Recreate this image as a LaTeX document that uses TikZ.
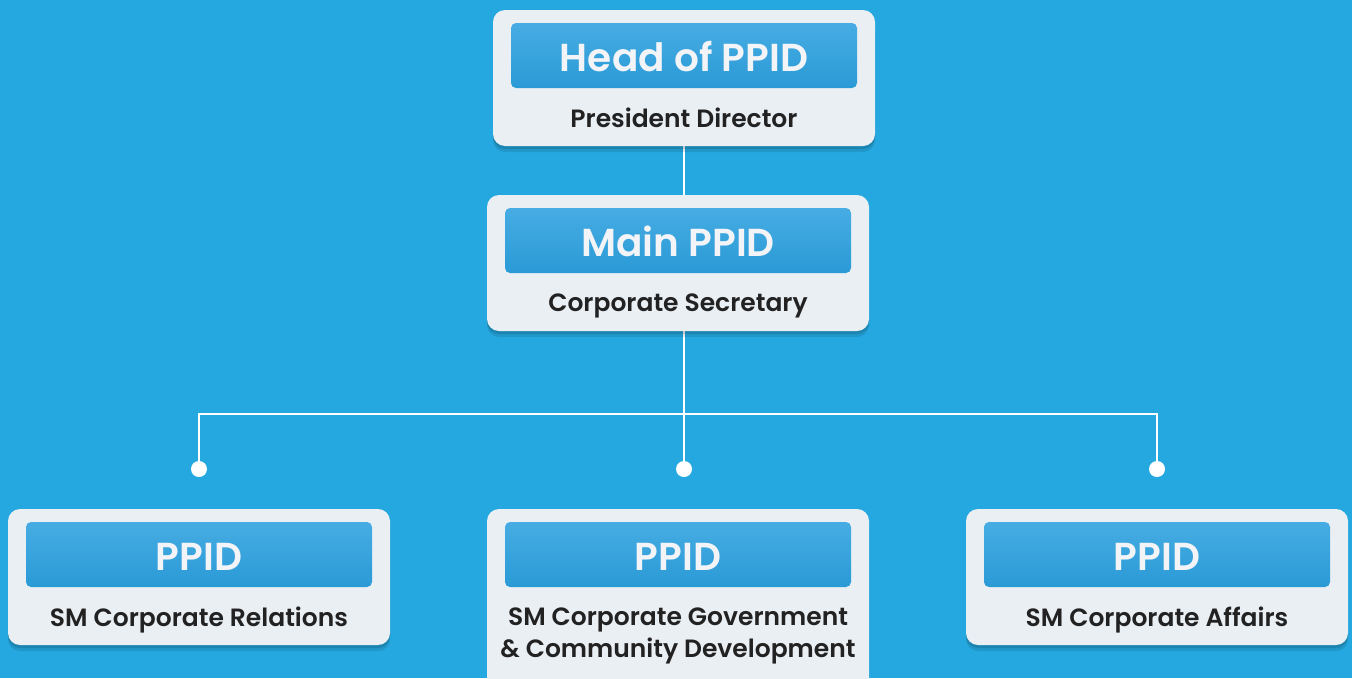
\documentclass[tikz,border=0pt]{standalone}
\usepackage{fontspec}
\setmainfont{Poppins}
\newfontfamily\semibf{Poppins SemiBold}
\usetikzlibrary{shadows}
\definecolor{bg}{HTML}{25A8E0}
\definecolor{card}{HTML}{EAEFF4}
\definecolor{bartop}{HTML}{47ACE3}
\definecolor{barbot}{HTML}{2A9AD6}
\definecolor{titlecol}{HTML}{F2F4F7}
\definecolor{subcol}{HTML}{222222}
\tikzset{
  card/.style={fill=card, rounded corners=12pt, minimum width=382pt, minimum height=136pt, inner sep=0pt,
    drop shadow={opacity=0.12, shadow xshift=0pt, shadow yshift=-3pt, fill=black},
    drop shadow={opacity=0.10, shadow xshift=0pt, shadow yshift=-6pt, fill=black}},
  bar/.style={top color=bartop, bottom color=barbot, rounded corners=5pt, minimum width=346pt, minimum height=65pt, inner sep=0pt},
  title/.style={text=titlecol, font=\fontsize{39}{44}\semibf, inner sep=0pt, anchor=base},
  sub/.style={text=subcol, font=\fontsize{25}{32}\semibf, inner sep=0pt, align=center, anchor=base},
  conn/.style={draw=white, line width=2.5pt},
  dot/.style={fill=white}
}
\begin{document}
\begin{tikzpicture}[x=1pt,y=-1pt]
\fill[bg] (0,0) rectangle (1352,678);
\useasboundingbox (0,0) rectangle (1352,678);
\clip (0,0) rectangle (1352,678);
% connectors
\coordinate (j) at (684,414);
\coordinate (d1) at (199,469);
\coordinate (d2) at (684,469);
\coordinate (d3) at (1157,469);
\coordinate (a1) at (684,146);
\coordinate (a2) at (684,195);
\coordinate (a3) at (684,331);
\draw[conn] (a1) -- (a2);
\draw[conn] (a3) -- (d2);
\draw[conn] (d1) -- (d1 |- j) -- (d3 |- j) -- (d3);
\fill[dot] (d1) circle (8);
\fill[dot] (d2) circle (8);
\fill[dot] (d3) circle (8);
% cards
\node[card] (top) at (684,78) {};
\node[bar] (topbar) at (684,55.5) {};
\node[title] (toptitle) at (684,71) {Head of PPID};
\node[sub] (topsub) at (684,127) {President Director};

\node[card] (mid) at (678,263) {};
\node[bar] (midbar) at (678,240.5) {};
\node[title] (midtitle) at (678,256) {Main PPID};
\node[sub] (midsub) at (678,311) {Corporate Secretary};

\node[card] (bl) at (199,577) {};
\node[bar] (blbar) at (199,554.5) {};
\node[title] (bltitle) at (199,570) {PPID};
\node[sub] (blsub) at (199,626) {SM Corporate Relations};

\node[card, minimum height=190pt] (bm) at (678,604) {};
\node[bar] (bmbar) at (678,554.5) {};
\node[title] (bmtitle) at (678,570) {PPID};
\node[sub] (bmsub) at (678,657) {SM Corporate Government\\\& Community Development};

\node[card] (br) at (1157,577) {};
\node[bar] (brbar) at (1157,554.5) {};
\node[title] (brtitle) at (1157,570) {PPID};
\node[sub] (brsub) at (1157,626) {SM Corporate Affairs};
\end{tikzpicture}
\end{document}
